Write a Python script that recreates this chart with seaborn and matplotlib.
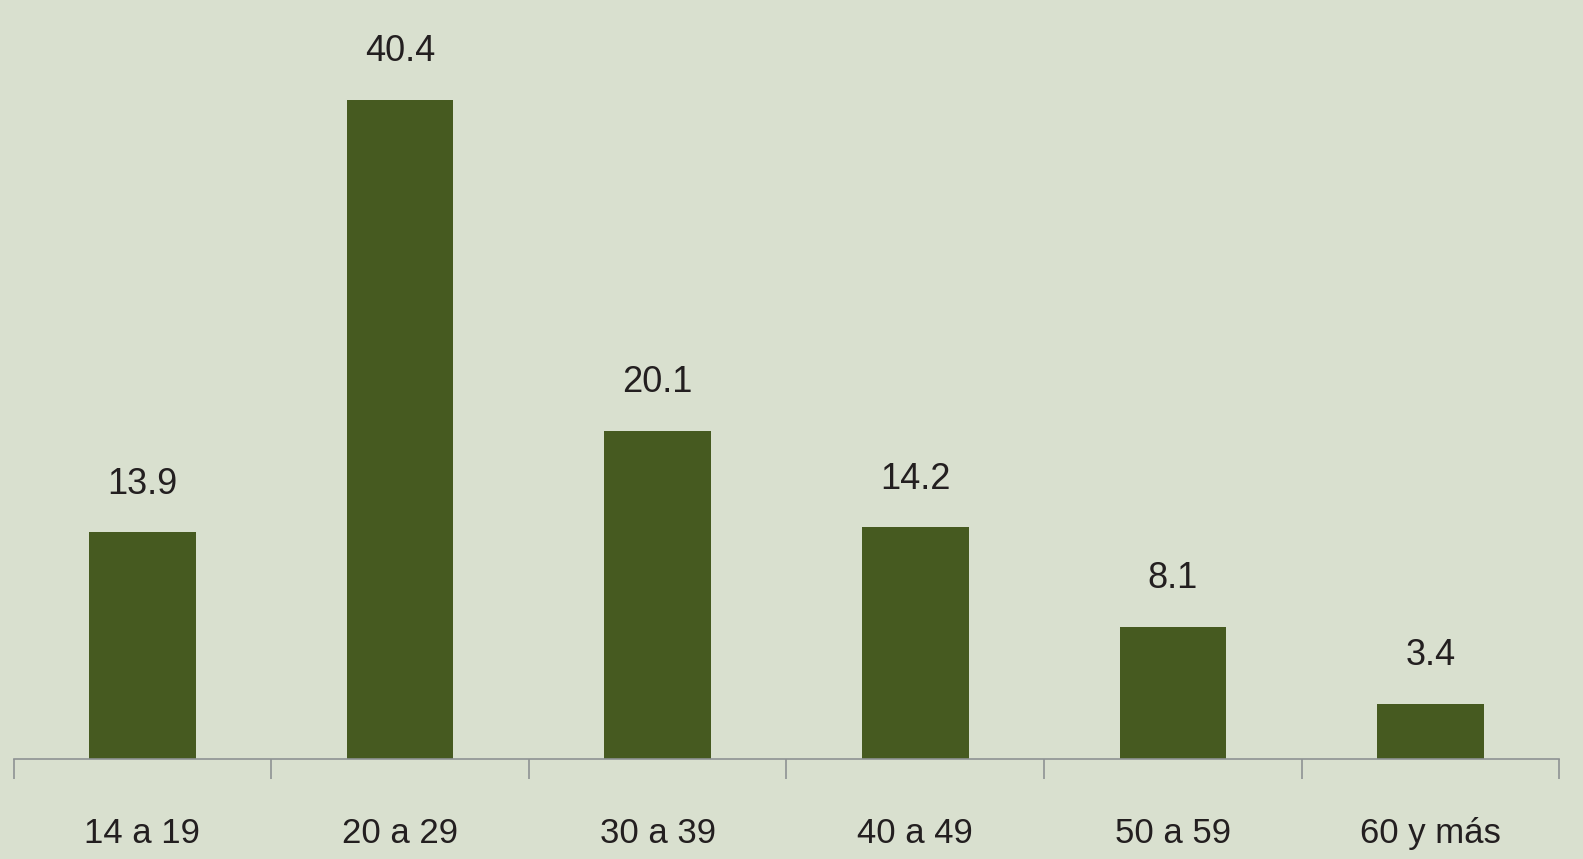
import matplotlib
matplotlib.use("Agg")
import matplotlib.pyplot as plt
import seaborn as sns
import pandas as pd
import numpy as np

categories = ["14 a 19", "20 a 29", "30 a 39", "40 a 49", "50 a 59", "60 y más"]
values = [13.9, 40.4, 20.1, 14.2, 8.1, 3.4]
value_labels = ["13.9", "40.4", "20.1", "14.2", "8.1", "3.4"]

bg = "#D9E0CF"
bar_color = "#465A20"
axis_color = "#8E9293"
text_color = "#231F20"

sns.set_theme(style="white")
plt.rcParams["font.family"] = ["Liberation Sans", "DejaVu Sans"]

W, H = 1583, 859
fig = plt.figure(figsize=(W / 100, H / 100), dpi=100)
fig.patch.set_facecolor(bg)
ax = fig.add_axes([13.5 / W, (H - 759) / H, (1559.5 - 13.5) / W, 759 / H])
ax.set_facecolor(bg)

df = pd.DataFrame({"cat": categories, "val": values})
sns.barplot(data=df, x="cat", y="val", color=bar_color, width=0.415,
            saturation=1, ax=ax, edgecolor="none")

ax.set_xlim(-0.5, len(categories) - 0.5)
ax.set_ylim(0, 46.5)
for i, (v, lab) in enumerate(zip(values, value_labels)):
    ax.annotate(lab, (i, v), xytext=(0, 48), textcoords="offset pixels",
                ha="center", va="center", fontsize=26, color=text_color)

for s in ["top", "right", "left"]:
    ax.spines[s].set_visible(False)
ax.spines["bottom"].set_color(axis_color)
ax.spines["bottom"].set_linewidth(1.2)
ax.set_yticks([])
ax.set_xlabel("")
ax.set_ylabel("")
ax.set_xticks(range(len(categories)))
ax.set_xticklabels(categories, fontsize=25, color=text_color)
ax.set_xticks(np.arange(-0.5, len(categories)), minor=True)
ax.tick_params(axis="x", which="major", length=0, pad=42)
ax.tick_params(axis="x", which="minor", length=14.4, width=1.2, color=axis_color, direction="out")
ax.tick_params(axis="x", which="both", bottom=True)

fig.savefig("out.png", dpi=100, facecolor=bg)
